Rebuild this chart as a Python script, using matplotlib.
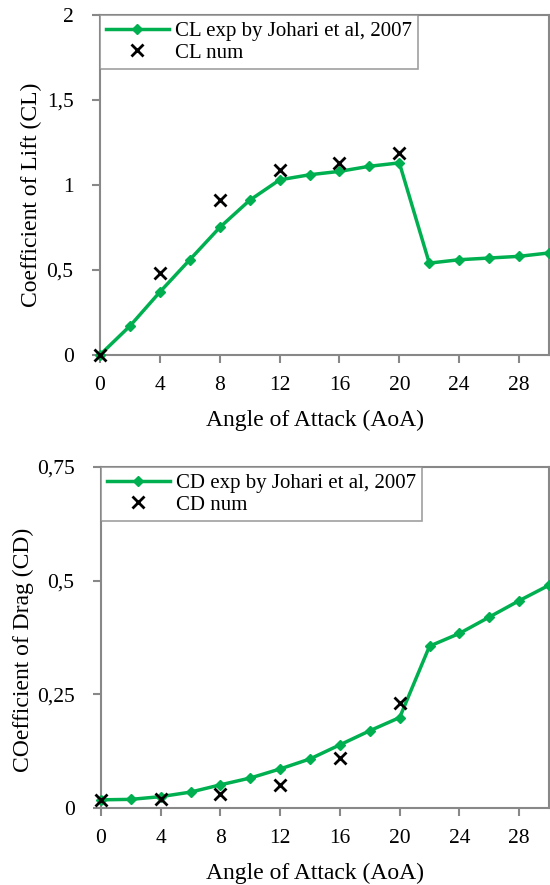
import matplotlib.pyplot as plt
from matplotlib.ticker import FuncFormatter

plt.rcParams['font.family'] = ['Liberation Serif', 'DejaVu Serif']

aoa_exp = [0, 2, 4, 6, 8, 10, 12, 14, 16, 18, 20, 22, 24, 26, 28, 30]
cl_exp = [0, 0.17, 0.37, 0.56, 0.75, 0.91, 1.03, 1.06, 1.08, 1.11, 1.13, 0.54, 0.56, 0.57, 0.58, 0.60]
cd_exp = [0.018, 0.019, 0.025, 0.035, 0.051, 0.066, 0.086, 0.108, 0.139, 0.17, 0.199, 0.356, 0.384, 0.42, 0.456, 0.49]

aoa_num = [0, 4, 8, 12, 16, 20]
cl_num = [0, 0.48, 0.91, 1.09, 1.13, 1.19]
cd_num = [0.018, 0.02, 0.03, 0.05, 0.11, 0.23]

green = '#00B050'
grey = '#888888'

fig = plt.figure(figsize=(5.5, 8.85), dpi=100)
ax1 = fig.add_axes([0.1818, 0.599, 0.8164, 0.384])
ax2 = fig.add_axes([0.1836, 0.087, 0.8146, 0.3853])

comma = FuncFormatter(lambda v, p: ('%g' % v).replace('.', ','))


def style(ax):
    for s in ax.spines.values():
        s.set_color(grey)
        s.set_linewidth(1.5)
    ax.tick_params(direction='out', length=6, width=1.5, color=grey, labelsize=15.5, pad=9)
    ax.tick_params(axis='y', pad=13)
    ax.xaxis.set_major_formatter(comma)
    ax.yaxis.set_major_formatter(comma)
    ax.set_xlim(0, 30)
    ax.set_xticks(range(0, 29, 4))
    ax.set_xlabel('Angle of Attack (AoA)', fontsize=17, labelpad=11)
    ax.xaxis.label.set_x(0.478)


ax1.plot(aoa_exp, cl_exp, color=green, lw=2.5, marker='D', ms=5, label='CL exp by Johari et al, 2007', clip_on=False, zorder=3)
ax1.plot(aoa_num, cl_num, ls='none', marker='x', color='black', ms=8, mew=2, label='CL num', clip_on=False, zorder=4)
ax1.set_ylim(0, 2)
ax1.set_yticks([0, 0.5, 1, 1.5, 2])
ax1.set_ylabel('Coefficient of Lift (CL)', fontsize=17)
style(ax1)
ax1.yaxis.set_label_coords(-0.129, 0.47)

ax2.plot(aoa_exp, cd_exp, color=green, lw=2.5, marker='D', ms=5, label='CD exp by Johari et al, 2007', clip_on=False, zorder=3)
ax2.plot(aoa_num, cd_num, ls='none', marker='x', color='black', ms=8, mew=2, label='CD num', clip_on=False, zorder=4)
ax2.set_ylim(0, 0.75)
ax2.set_yticks([0, 0.25, 0.5, 0.75])
ax2.set_ylabel('COefficient of Drag (CD)', fontsize=17)
style(ax2)
ax2.yaxis.set_label_coords(-0.149, 0.463)

for ax in (ax1, ax2):
    leg = ax.legend(loc='upper left', bbox_to_anchor=(0, 1), fontsize=15, frameon=True, fancybox=False,
                    borderaxespad=0, handlelength=3, handletextpad=0.3, borderpad=0.3, labelspacing=0.1)
    leg.get_frame().set_edgecolor(grey)
    leg.get_frame().set_linewidth(1.2)

fig.savefig('out.png', dpi=100)
